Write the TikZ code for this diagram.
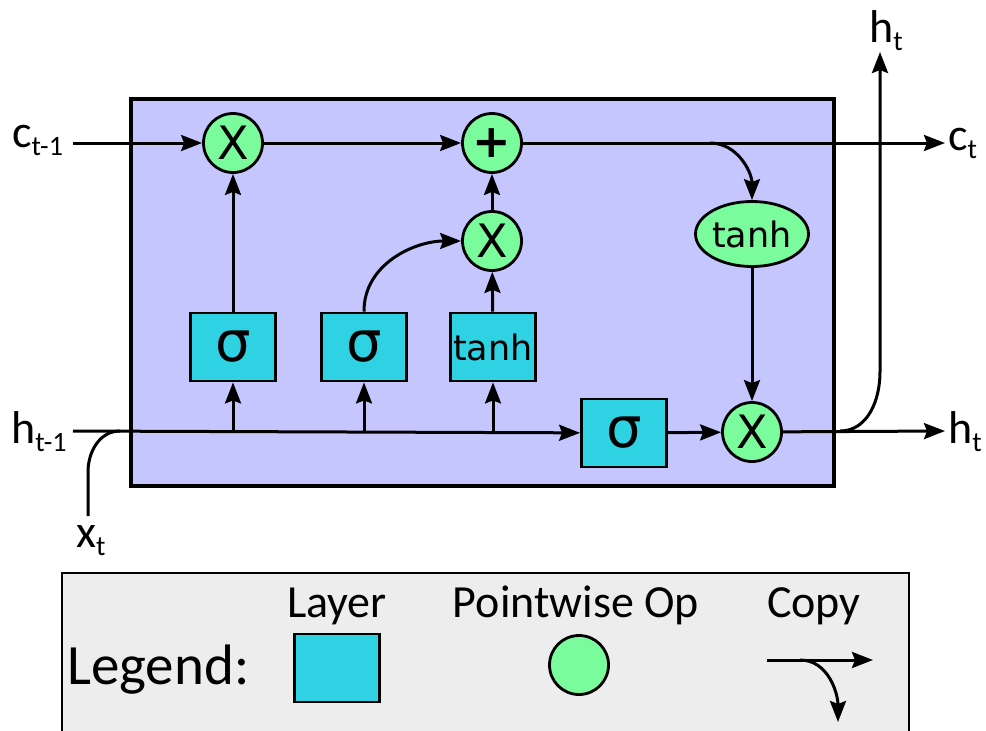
\documentclass[tikz,border=0pt]{standalone}
\usepackage{fontspec}
\setmainfont{Carlito}
\newfontfamily\dejavu{DejaVu Sans}
\usetikzlibrary{arrows.meta,positioning,shapes.geometric,calc}

\definecolor{cellcol}{RGB}{198,198,255}
\definecolor{layercol}{RGB}{46,210,226}
\definecolor{opcol}{RGB}{122,252,156}
\definecolor{legendcol}{RGB}{237,237,237}

% label with a subscript
\newcommand{\sublbl}[2]{#1\raisebox{-8pt}{\fontsize{28}{28}\selectfont #2}}

\tikzset{
  layer/.style={draw,line width=2.8pt,fill=layercol,minimum width=85pt,minimum height=68pt,inner sep=0pt,font=\dejavu\fontsize{56}{56}\selectfont},
  pointop/.style={draw,circle,line width=2.8pt,fill=opcol,minimum size=59pt,inner sep=0pt,font=\dejavu\fontsize{46}{46}\selectfont},
  flow/.style={line width=3pt,->},
  wire/.style={line width=3pt},
  lbl/.style={inner sep=0pt,font=\fontsize{46}{50}\selectfont},
  legtext/.style={inner sep=0pt,font=\fontsize{46}{50}\selectfont}
}

\begin{document}
\begin{tikzpicture}[x=1pt,y=1pt,>={Stealth[length=21pt,width=16pt,inset=3pt]}]
\useasboundingbox (0,0) rectangle (986,-731);

% cell
\draw[line width=3.2pt,fill=cellcol] (131,-99) rectangle (834,-486);

% legend frame
\draw[line width=2.8pt,fill=legendcol] (62,-745) rectangle (909,-573);

% in and out points
\coordinate (cin) at (73,-143);
\coordinate (cout) at (945,-143);
\coordinate (hin) at (73,-431);
\coordinate (hout) at (945,-431);
\coordinate (htop) at (880,-52);
\coordinate (xin) at (88,-516);
\coordinate (xjoin) at (120,-431);
\coordinate (csplit) at (710,-143);
\coordinate (hsplit) at (840,-431);

% gates and pointwise ops
\node[pointop] (fx) at (233,-143) {X};
\node[pointop] (plus) at (492,-143) {\textbf{+}};
\node[pointop] (ix) at (492,-241) {X};
\node[layer] (fgate) at (233,-347) {σ};
\node[layer] (igate) at (364,-347) {σ};
\node[layer,font=\dejavu\fontsize{35}{35}\selectfont] (cgate) at (493,-347) {tanh};
\node[layer] (ogate) at (624,-433) {σ};
\node[pointop] (hx) at (752,-432) {X};
\node[draw,ellipse,line width=2.8pt,fill=opcol,minimum width=113pt,minimum height=65pt,inner sep=0pt,font=\dejavu\fontsize{35}{35}\selectfont] (ctanh) at (752,-234) {tanh};

\coordinate (hf) at (fgate |- hin);
\coordinate (hi) at (igate |- hin);
\coordinate (hc) at (cgate |- hin);

% cell state
\draw[flow] (cin) -- (fx);
\draw[flow] (fx) -- (plus);
\draw[flow] (plus) -- (cout);
\draw[flow] (csplit) to[out=0,in=90] (ctanh);

% hidden state
\draw[wire] (xin) -- ++(0,44) to[out=90,in=180] (xjoin);
\draw[flow] (hin) -- (ogate);
\draw[flow] (ogate) -- (hx);
\draw[flow] (hx) -- (hout);
\draw[flow] (hsplit) to[out=0,in=-90] (880,-372) -- (htop);

% gate inputs and outputs
\draw[flow] (hf) -- (fgate);
\draw[flow] (hi) -- (igate);
\draw[flow] (hc) -- (cgate);
\draw[flow] (fgate) -- (fx);
\draw[flow] (igate) -- ++(0,36) to[out=90,in=180] (ix);
\draw[flow] (cgate) -- (ix);
\draw[flow] (ix) -- (plus);
\draw[flow] (ctanh) -- (hx);

% labels
\node[lbl,anchor=base west] (lcin) at (12,-147) {\sublbl{c}{t-1}};
\node[lbl,anchor=base west] (lhin) at (11,-443) {\sublbl{h}{t-1}};
\node[lbl,anchor=base west] (lcout) at (948,-150) {\sublbl{c}{t}};
\node[lbl,anchor=base west] (lhout) at (948,-443) {\sublbl{h}{t}};
\node[lbl,anchor=base west] (lhtop) at (869,-42) {\sublbl{h}{t}};
\node[lbl,anchor=base west] (lxin) at (76,-547) {\sublbl{x}{t}};

% legend
\node[inner sep=0pt,anchor=base west,font=\fontsize{57}{60}\selectfont] (legend) at (67,-684) {Legend:};
\node[legtext,anchor=base] (llayer) at (337,-617) {Layer};
\node[legtext,anchor=base] (lop) at (576,-617) {Pointwise Op};
\node[legtext,anchor=base] (lcopy) at (814,-617) {Copy};
\node[layer] (keylayer) at (337,-668) {};
\node[pointop] (keyop) at (579,-665) {};
\coordinate (copyin) at (767,-660);
\coordinate (copyout) at (873,-660);
\coordinate (copysplit) at (800,-660);
\coordinate (copydown) at (838,-722);
\draw[flow] (copyin) -- (copyout);
\draw[flow] (copysplit) to[out=0,in=90] (copydown);
\end{tikzpicture}
\end{document}
